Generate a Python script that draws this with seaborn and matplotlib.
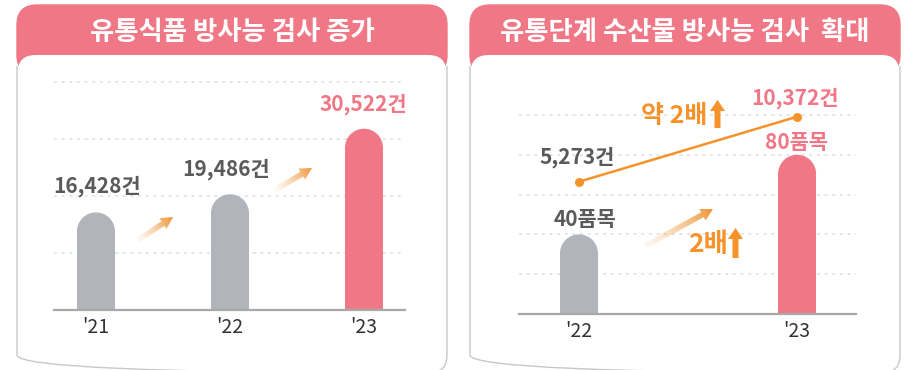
import numpy as np
import pandas as pd
import matplotlib
matplotlib.use("Agg")
import matplotlib.pyplot as plt
import seaborn as sns
from matplotlib.patches import FancyBboxPatch, Rectangle, Ellipse, Polygon
from matplotlib.colors import to_rgb

sns.set_style("white")
plt.rcParams["font.family"] = ["Noto Sans CJK KR", "DejaVu Sans"]

# ---- data ----
food_years = ["'21", "'22", "'23"]
food_tests = [16428, 19486, 30522]          # 유통식품 방사능 검사 건수

sea_years = ["'22", "'23"]
sea_items = [40, 80]                         # 검사 품목 수
sea_tests = [5273, 10372]                    # 검사 건수

food_title = "유통식품 방사능 검사 증가"
sea_title = "유통단계 수산물 방사능 검사  확대"

# ---- style ----
PINK = "#f07786"
GRAY_BAR = "#b1b5bb"
ORANGE = "#f5922a"
DARK = "#5a5a5a"
GRID = "#d6e2ea"

W, H = 906, 370
fig = plt.figure(figsize=(W / 100, H / 100), dpi=100)


def px_axes(x0, y0, x1, y1, **kw):
    """Axes placed by a pixel box measured from the top-left corner."""
    return fig.add_axes([x0 / W, 1 - y1 / H, (x1 - x0) / W, (y1 - y0) / H], **kw)


def pixel_canvas(z):
    a = px_axes(0, 0, W, H, zorder=z)
    a.set_xlim(0, W)
    a.set_ylim(H, 0)
    a.axis("off")
    return a


bg = pixel_canvas(0)
fg = pixel_canvas(20)


def panel(x0, x1, title):
    top, bottom = 5, 373
    header = FancyBboxPatch((x0, top), x1 - x0, 70,
                            boxstyle="round,pad=0,rounding_size=20",
                            fc=PINK, ec=PINK, lw=1, zorder=2)
    bg.add_patch(header)
    body = FancyBboxPatch((x0 + 0.6, 55), x1 - x0 - 1.2, bottom - 55,
                          boxstyle="round,pad=0,rounding_size=18",
                          fc="white", ec="none", zorder=3)
    bg.add_patch(body)
    outline = FancyBboxPatch((x0, top), x1 - x0, bottom - top,
                             boxstyle="round,pad=0,rounding_size=18",
                             fc="none", ec="#c8c8c8", lw=1.0, zorder=4)
    bg.add_patch(outline)
    outline.set_clip_path(Rectangle((0, 66), W, H, transform=bg.transData))
    bg.text((x0 + x1) / 2, 32, title, ha="center", va="center",
            fontsize=19, fontweight="bold", color="white", zorder=5)


panel(17, 447, food_title)
panel(470, 900, sea_title)


def round_tops(ax, box):
    """Replace the seaborn bars by bars with a half-round cap."""
    x0, y0, x1, y1 = box
    xr = np.diff(ax.get_xlim())[0] / (x1 - x0)
    yr = np.diff(ax.get_ylim())[0] / (y1 - y0)
    for p in list(ax.patches):
        x, w, h = p.get_x(), p.get_width(), p.get_height()
        fc = p.get_facecolor()
        p.remove()
        ry = (w / xr) / 2 * yr
        ax.add_patch(Rectangle((x, 0), w, h - ry, fc=fc, ec="none", zorder=2))
        ax.add_patch(Ellipse((x + w / 2, h - ry), w, 2 * ry, fc=fc, ec="none", zorder=2))


def style_axes(ax, gridvals):
    ax.set_yticks(gridvals)
    ax.yaxis.grid(True, color=GRID, linestyle=(0, (2, 3)), lw=1.1)
    ax.xaxis.grid(False)
    ax.set_axisbelow(True)
    ax.tick_params(axis="y", length=0, labelleft=False)
    ax.tick_params(axis="x", length=0, labelsize=14, labelcolor="#333333", pad=5)
    for s in ("top", "right", "left"):
        ax.spines[s].set_visible(False)
    ax.spines["bottom"].set_color("#a8a8a8")
    ax.spines["bottom"].set_linewidth(1.6)
    ax.set_xlabel("")
    ax.set_ylabel("")
    ax.patch.set_alpha(0)


# ---- left chart: 유통식품 ----
box1 = (54, 70, 405, 310)
ax1 = px_axes(*box1, zorder=5)
df1 = pd.DataFrame({"year": food_years, "tests": food_tests})
sns.barplot(data=df1, x="year", y="tests", hue="year",
            palette=[GRAY_BAR, GRAY_BAR, PINK], saturation=1,
            width=0.284, legend=False, ax=ax1)
ax1.set_xlim(-0.313, 2.306)
ax1.set_ylim(0, 40400)
style_axes(ax1, [9600, 19200, 28800, 38400])
round_tops(ax1, box1)

food_offsets = [(1, 26), (-4, 25), (-1, 25)]
for i, (v, off) in enumerate(zip(food_tests, food_offsets)):
    ax1.annotate(f"{v:,}건", (i, v), xytext=(off[0] * 0.72, off[1] * 0.72),
                 textcoords="offset points", ha="center", va="center",
                 fontsize=15, fontweight="bold",
                 color=PINK if i == len(food_tests) - 1 else DARK)

# ---- right chart: 수산물 ----
box2 = (519, 105, 856, 314)
ax2 = px_axes(*box2, zorder=5)
df2 = pd.DataFrame({"year": sea_years, "items": sea_items})
sns.barplot(data=df2, x="year", y="items", hue="year",
            palette=[GRAY_BAR, PINK], saturation=1,
            width=0.174, legend=False, ax=ax2)
ax2.set_xlim(-0.275, 1.27)
ax2.set_ylim(0, 105)
style_axes(ax2, [20, 40, 60, 80, 100])
round_tops(ax2, box2)

item_offsets = [(6, 15), (-1, 12)]
for i, (v, off) in enumerate(zip(sea_items, item_offsets)):
    ax2.annotate(f"{v}품목", (i, v), xytext=(off[0] * 0.72, off[1] * 0.72),
                 textcoords="offset points", ha="center", va="center",
                 fontsize=15, fontweight="bold",
                 color=PINK if i == 1 else DARK)

ax2b = ax2.twinx()
ax2b.set_zorder(ax2.get_zorder() + 1)
sns.lineplot(x=np.arange(len(sea_tests)), y=sea_tests, color=ORANGE,
             marker="o", markersize=6.5, markeredgewidth=0, linewidth=1.8,
             ax=ax2b)
ax2b.set_xlim(ax2.get_xlim())
ax2b.set_ylim(-5100, 11290)
ax2b.set_axis_off()

test_offsets = [(-2, 25), (-2, 19)]
for i, (v, off) in enumerate(zip(sea_tests, test_offsets)):
    ax2b.annotate(f"{v:,}건", (i, v), xytext=(off[0] * 0.72, off[1] * 0.72),
                  textcoords="offset points", ha="center", va="center",
                  fontsize=15, fontweight="bold",
                  color=PINK if i == 1 else DARK)


# ---- decorative arrows ----
def gradient_arrow(x0, y0, x1, y1, shaft=5.5, head_w=13, head_l=12):
    d = np.array([x1 - x0, y1 - y0], float)
    L = np.hypot(*d)
    u = d / L
    n = np.array([-u[1], u[0]])
    tail = np.array([x0, y0], float)
    tip = np.array([x1, y1], float)
    base = tip - u * head_l
    pts = [tail + n * shaft / 2, base + n * shaft / 2, base + n * head_w / 2, tip,
           base - n * head_w / 2, base - n * shaft / 2, tail - n * shaft / 2]
    poly = Polygon(pts, closed=True, fc="none", ec="none")
    fg.add_patch(poly)
    pts = np.array(pts)
    xmin, ymin = pts.min(axis=0) - 2
    xmax, ymax = pts.max(axis=0) + 2
    xs = np.linspace(xmin, xmax, 200)
    ys = np.linspace(ymin, ymax, 200)
    X, Y = np.meshgrid(xs, ys)
    t = np.clip(((X - x0) * u[0] + (Y - y0) * u[1]) / L, 0, 1)
    rgba = np.zeros(X.shape + (4,))
    rgba[..., :3] = to_rgb("#ef9130")
    rgba[..., 3] = 0.06 + 0.94 * t ** 1.3
    im = fg.imshow(rgba, extent=(xmin, xmax, ymax, ymin), origin="upper",
                   interpolation="bilinear", zorder=6)
    im.set_clip_path(poly)


def up_arrow(cx, top, bottom, shaft=6, head_w=15, head_l=11):
    pts = [(cx - shaft / 2, bottom), (cx - shaft / 2, top + head_l),
           (cx - head_w / 2, top + head_l), (cx, top),
           (cx + head_w / 2, top + head_l), (cx + shaft / 2, top + head_l),
           (cx + shaft / 2, bottom)]
    fg.add_patch(Polygon(pts, closed=True, fc=ORANGE, ec="none", zorder=7))


gradient_arrow(138, 240, 173, 217)
gradient_arrow(275, 190, 312, 168)
gradient_arrow(645, 246, 713, 209)

fg.text(674, 116, "약 2배", ha="center", va="center", fontsize=18,
        fontweight="bold", color=ORANGE, zorder=7)
up_arrow(717.5, 100, 128)
fg.text(708, 244, "2배", ha="center", va="center", fontsize=19,
        fontweight="bold", color=ORANGE, zorder=7)
up_arrow(735.5, 228, 258)

for a in (bg, fg):
    a.set_xlim(0, W)
    a.set_ylim(H, 0)
    a.set_aspect("auto")

fig.savefig("out.png", dpi=100)
